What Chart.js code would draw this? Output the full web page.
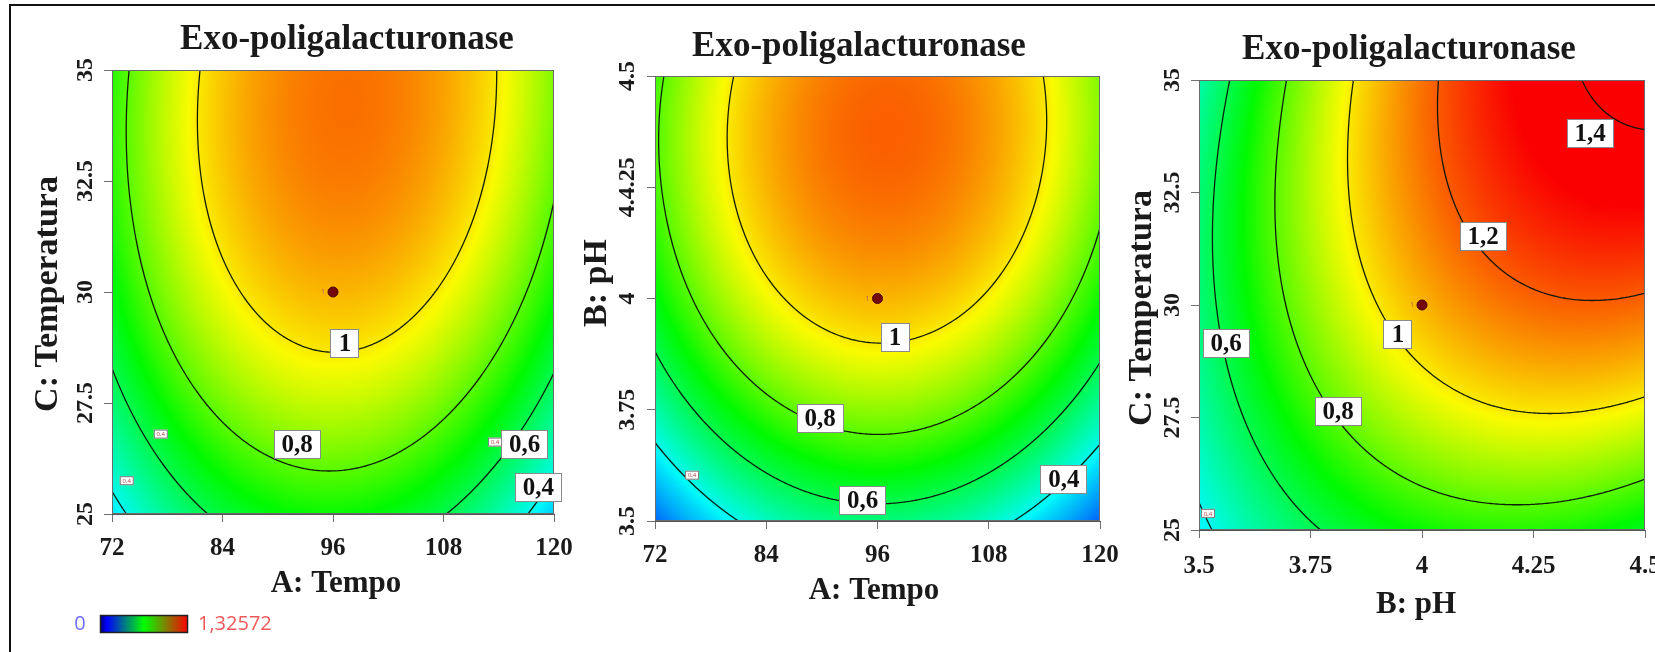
<!DOCTYPE html>
<html>
<head>
<meta charset="utf-8">
<script src="https://cdn.jsdelivr.net/npm/chart.js@4.4.1/dist/chart.umd.min.js"></script>
<style>
  html, body { margin: 0; padding: 0; background: #fff; }
  #wrap { position: relative; width: 1655px; height: 652px; overflow: hidden; background: #fff; }
  #wrap canvas { position: absolute; top: 0; }
  #frame { position: absolute; left: 9px; top: 4px; width: 1700px; height: 700px;
           border-left: 2px solid #111; border-top: 2px solid #111; }
</style>
</head>
<body>
<div id="wrap">
  <div id="frame"></div>
  <canvas id="c1" width="600" height="652" style="left:0px"></canvas>
  <canvas id="c2" width="600" height="652" style="left:540px"></canvas>
  <canvas id="c3" width="600" height="652" style="left:1090px"></canvas>
</div>
<script>
// ---- factor levels shown on the axes ----
const tempoTicks = [72, 84, 96, 108, 120];
const tempoTickLabels = ['72', '84', '96', '108', '120'];
const phTicks = [3.5, 3.75, 4, 4.25, 4.5];
const phTickLabels = ['3.5', '3.75', '4', '4.25', '4.5'];
const phTickLabelsVertical = ['3.5', '3.75', '4', '4.4.25', '4.5'];
const tempTicks = [25, 27.5, 30, 32.5, 35];
const tempTickLabels = ['25', '27.5', '30', '32.5', '35'];

// ---- predicted activity at the tick grid (rows: bottom to top of the y axis) ----
const respTempoTemp = [
  [0.354, 0.625, 0.708, 0.605, 0.314],
  [0.552, 0.831, 0.924, 0.829, 0.548],
  [0.682, 0.971, 1.072, 0.987, 0.714],
  [0.745, 1.042, 1.153, 1.076, 0.813],
  [0.740, 1.047, 1.166, 1.099, 0.844]
];
const respTempoPh = [
  [0.160, 0.453, 0.544, 0.448, 0.150],
  [0.481, 0.764, 0.861, 0.770, 0.492],
  [0.682, 0.971, 1.072, 0.987, 0.714],
  [0.778, 1.072, 1.179, 1.098, 0.831],
  [0.769, 1.068, 1.180, 1.105, 0.843]
];
const respPhTemp = [
  [0.370, 0.585, 0.708, 0.736, 0.658],
  [0.480, 0.752, 0.924, 0.991, 0.953],
  [0.544, 0.861, 1.072, 1.179, 1.180],
  [0.546, 0.902, 1.153, 1.299, 1.340],
  [0.480, 0.876, 1.166, 1.352, 1.432]
];

const contourLevels = [0.4, 0.6, 0.8, 1.0, 1.2, 1.4];
const colourRange = [0, 1.32572];
// hue (degrees) along the colour scale, by activity
const hueStops = [[0, 240], [0.35, 186], [0.7, 120], [1.0, 56], [1.32572, 0]];

// ---- contour labels [x, y, text] ----
const labelsTempoTemp = [[97.3, 28.85, '1'], [92.1, 26.57, '0,8'], [116.8, 26.57, '0,6'], [118.3, 25.6, '0,4']];
const smallTagsTempoTemp = [[77.3, 26.8], [73.6, 25.75], [113.6, 26.62]];
const labelsTempoPh = [[97.9, 3.913, '1'], [89.8, 3.73, '0,8'], [94.4, 3.547, '0,6'], [116.1, 3.594, '0,4']];
const smallTagsTempoPh = [[76.0, 3.603]];
const labelsPhTemp = [[4.377, 33.82, '1,4'], [4.137, 31.52, '1,2'], [3.946, 29.34, '1'], [3.812, 27.63, '0,8'], [3.561, 29.15, '0,6']];
const smallTagsPhTemp = [[3.52, 25.37]];

// ---- centre point of the design ----
const centreTempoTemp = [{ x: 96, y: 30 }];
const centreTempoPh = [{ x: 96, y: 4 }];
const centrePhTemp = [{ x: 4, y: 30 }];

const SERIF = '"Liberation Serif", "Times New Roman", serif';
const SANS = '"Open Sans", "Noto Sans", sans-serif';
const panelTitle = 'Exo-poligalacturonase';

function lagrange(nodes, x) {
  return nodes.map((xi, i) => nodes.reduce((p, xj, j) => (j === i ? p : p * (x - xj) / (xi - xj)), 1));
}

function hueFor(v) {
  if (v <= hueStops[0][0]) return hueStops[0][1];
  for (let k = 1; k < hueStops.length; k++) {
    const [v1, h1] = hueStops[k], [v0, h0] = hueStops[k - 1];
    if (v <= v1) return h0 + (h1 - h0) * (v - v0) / (v1 - v0);
  }
  return 0;
}

function hueRGB(v) {
  const hp = hueFor(v) / 60;
  const x = 1 - Math.abs((hp % 2) - 1);
  let c;
  if (hp < 1) c = [1, x, 0];
  else if (hp < 2) c = [x, 1, 0];
  else if (hp < 3) c = [0, 1, x];
  else if (hp < 4) c = [0, x, 1];
  else c = [x, 0, 1];
  return c.map(k => Math.round(k * 250));
}

function makePanel(cfg) {
  const canvas = document.getElementById(cfg.id);
  const off = cfg.offset;
  const field = (x, y) => {
    const wx = lagrange(cfg.xTicks, x), wy = lagrange(cfg.yTicks, y);
    let s = 0;
    for (let j = 0; j < wy.length; j++) for (let i = 0; i < wx.length; i++) s += wy[j] * wx[i] * cfg.grid[j][i];
    return s;
  };

  const panelPlugin = {
    id: 'panel-' + cfg.id,
    beforeDraw(chart) {
      const ctx = chart.ctx;
      const xs = chart.scales.x, ys = chart.scales.y;
      const L = Math.round(chart.chartArea.left), T = Math.round(chart.chartArea.top);
      const R = Math.round(chart.chartArea.right), B = Math.round(chart.chartArea.bottom);
      const w = R - L, h = B - T;
      // filled surface
      const img = ctx.createImageData(w, h);
      const wxs = [];
      for (let px = 0; px < w; px++) wxs.push(lagrange(cfg.xTicks, xs.getValueForPixel(L + px + 0.5)));
      for (let py = 0; py < h; py++) {
        const wy = lagrange(cfg.yTicks, ys.getValueForPixel(T + py + 0.5));
        const row = [0, 0, 0, 0, 0];
        for (let i = 0; i < 5; i++) for (let j = 0; j < 5; j++) row[i] += wy[j] * cfg.grid[j][i];
        for (let px = 0; px < w; px++) {
          const wx = wxs[px];
          let v = 0;
          for (let i = 0; i < 5; i++) v += wx[i] * row[i];
          const c = hueRGB(v);
          const k = (py * w + px) * 4;
          img.data[k] = c[0]; img.data[k + 1] = c[1]; img.data[k + 2] = c[2]; img.data[k + 3] = 255;
        }
      }
      ctx.putImageData(img, L, T);

      // contour lines (marching squares)
      const step = 2;
      const nx = Math.ceil(w / step), ny = Math.ceil(h / step);
      const gx = i => Math.min(L + i * step, R), gy = j => Math.min(T + j * step, B);
      const vals = [];
      for (let j = 0; j <= ny; j++) {
        const r = [];
        for (let i = 0; i <= nx; i++) r.push(field(xs.getValueForPixel(gx(i)), ys.getValueForPixel(gy(j))));
        vals.push(r);
      }
      ctx.save();
      ctx.beginPath(); ctx.rect(L, T, w, h); ctx.clip();
      ctx.strokeStyle = 'rgba(10,20,10,0.95)';
      ctx.lineWidth = 1.3;
      ctx.lineCap = 'round';
      for (const lev of contourLevels) {
        ctx.beginPath();
        for (let j = 0; j < ny; j++) {
          for (let i = 0; i < nx; i++) {
            const x0 = gx(i), x1 = gx(i + 1), y0 = gy(j), y1 = gy(j + 1);
            const a = vals[j][i], b = vals[j][i + 1], c = vals[j + 1][i + 1], d = vals[j + 1][i];
            const pts = [];
            const cross = (p, q, P, Q) => {
              if ((p < lev) !== (q < lev)) {
                const t = (lev - p) / (q - p);
                pts.push([P[0] + (Q[0] - P[0]) * t, P[1] + (Q[1] - P[1]) * t]);
              }
            };
            cross(a, b, [x0, y0], [x1, y0]);
            cross(b, c, [x1, y0], [x1, y1]);
            cross(c, d, [x1, y1], [x0, y1]);
            cross(d, a, [x0, y1], [x0, y0]);
            for (let k = 0; k + 1 < pts.length; k += 2) {
              ctx.moveTo(pts[k][0], pts[k][1]);
              ctx.lineTo(pts[k + 1][0], pts[k + 1][1]);
            }
          }
        }
        ctx.stroke();
      }
      ctx.restore();
    },
    beforeDatasetsDraw(chart) {
      const ctx = chart.ctx;
      const xs = chart.scales.x, ys = chart.scales.y;
      const { left, top, right, bottom } = chart.chartArea;
      ctx.save();
      ctx.strokeStyle = '#6b6b6b';
      ctx.lineWidth = 1;
      ctx.strokeRect(Math.round(left) + 0.5, Math.round(top) + 0.5, Math.round(right - left) - 1, Math.round(bottom - top) - 1);
      // small tags
      for (const [x, y] of cfg.tags) {
        const px = xs.getPixelForValue(x), py = ys.getPixelForValue(y);
        ctx.fillStyle = '#fff';
        ctx.fillRect(px - 7, py - 4.5, 14, 9);
        ctx.strokeStyle = '#777';
        ctx.strokeRect(px - 7 + 0.5, py - 4.5 + 0.5, 13, 8);
        ctx.fillStyle = '#b04040';
        ctx.font = '6px ' + SANS;
        ctx.textAlign = 'center'; ctx.textBaseline = 'middle';
        ctx.fillText('0,4', px, py + 0.5);
      }
      // contour value labels
      ctx.font = 'bold 25px ' + SERIF;
      ctx.textAlign = 'center'; ctx.textBaseline = 'middle';
      for (const [x, y, t] of cfg.labels) {
        const px = xs.getPixelForValue(x), py = ys.getPixelForValue(y);
        const tw = ctx.measureText(t).width;
        const bw = Math.round(tw + 16), bh = 29;
        const bx = Math.round(px - bw / 2), by = Math.round(py - bh / 2);
        ctx.fillStyle = '#fff';
        ctx.fillRect(bx, by, bw, bh);
        ctx.strokeStyle = '#8a8a8a';
        ctx.strokeRect(bx + 0.5, by + 0.5, bw - 1, bh - 1);
        ctx.fillStyle = '#111';
        ctx.fillText(t, px, py + 1);
      }
      ctx.restore();
    },
    afterDraw(chart) {
      const ctx = chart.ctx;
      const ys = chart.scales.y;
      ctx.save();
      ctx.fillStyle = '#1a1a1a';
      // panel title
      ctx.font = 'bold 35px ' + SERIF;
      ctx.textAlign = 'center'; ctx.textBaseline = 'middle';
      ctx.fillText(panelTitle, cfg.titlePos[0] - off, cfg.titlePos[1]);
      // x axis title
      ctx.font = 'bold 31px ' + SERIF;
      ctx.fillText(cfg.xTitle, cfg.xTitlePos[0] - off, cfg.xTitlePos[1]);
      // y axis title (rotated)
      ctx.font = 'bold 34px ' + SERIF;
      ctx.save();
      ctx.translate(cfg.yTitlePos[0] - off, cfg.yTitlePos[1]);
      ctx.rotate(-Math.PI / 2);
      ctx.fillText(cfg.yTitle, 0, 0);
      ctx.restore();
      // y tick labels (rotated, read bottom to top)
      ctx.font = 'bold 24px ' + SERIF;
      cfg.yTicks.forEach((v, i) => {
        ctx.save();
        ctx.translate(cfg.yLabelX - off, ys.getPixelForValue(v));
        ctx.rotate(-Math.PI / 2);
        ctx.fillText(cfg.yLabels[i], 0, 0);
        ctx.restore();
      });
      // replicate count next to the centre point
      const xs = chart.scales.x;
      const cp = cfg.centre[0];
      ctx.font = '7px ' + SANS;
      ctx.fillStyle = '#b06060';
      ctx.fillText('1', xs.getPixelForValue(cp.x) - 10, ys.getPixelForValue(cp.y));
      if (cfg.colourBar) {
        const [bx, by, bw, bh] = [100 - off, 615, 88, 18];
        const g = ctx.createLinearGradient(bx, 0, bx + bw, 0);
        g.addColorStop(0, '#00007a');
        g.addColorStop(0.08, '#0000ff');
        g.addColorStop(0.5, '#00ff00');
        g.addColorStop(1, '#ff0000');
        ctx.fillStyle = g;
        ctx.fillRect(bx, by, bw, bh);
        ctx.strokeStyle = '#222';
        ctx.lineWidth = 1.5;
        ctx.strokeRect(bx + 0.5, by + 0.5, bw - 1, bh - 1);
        ctx.font = '20px ' + SANS;
        ctx.textBaseline = 'middle';
        ctx.textAlign = 'center';
        ctx.fillStyle = '#6f6fff';
        ctx.fillText(String(colourRange[0]), 80 - off, by + bh / 2);
        ctx.textAlign = 'left';
        ctx.fillStyle = '#f05a5a';
        ctx.fillText(colourRange[1].toString().replace('.', ','), 198 - off, by + bh / 2);
      }
      ctx.restore();
    }
  };

  const a = cfg.area;
  const yAxisW = 50, xAxisH = 70;
  return new Chart(canvas, {
    type: 'scatter',
    data: {
      datasets: [{
        data: cfg.centre,
        pointRadius: 5,
        pointBackgroundColor: '#740808',
        pointBorderColor: '#4a0404',
        pointBorderWidth: 1
      }]
    },
    options: {
      responsive: false,
      animation: false,
      devicePixelRatio: 1,
      layout: {
        padding: {
          left: a[0] - off - yAxisW,
          right: canvas.width - (a[2] - off),
          top: a[1],
          bottom: canvas.height - a[3] - xAxisH
        }
      },
      plugins: { legend: { display: false }, title: { display: false }, tooltip: { enabled: false } },
      scales: {
        x: {
          type: 'linear',
          min: cfg.xTicks[0], max: cfg.xTicks[cfg.xTicks.length - 1],
          afterBuildTicks: s => { s.ticks = cfg.xTicks.map(v => ({ value: v })); },
          afterFit: s => { s.height = xAxisH; },
          ticks: {
            autoSkip: false, maxRotation: 0, padding: cfg.xTickPad,
            color: '#1a1a1a',
            font: { family: SERIF, size: 25, weight: 'bold', lineHeight: 1.2 },
            callback: v => cfg.xLabels[cfg.xTicks.indexOf(v)]
          },
          grid: { display: true, drawOnChartArea: false, drawTicks: true, tickLength: 8, color: '#707070' },
          border: { display: true, color: '#555', width: 1 }
        },
        y: {
          type: 'linear',
          min: cfg.yTicks[0], max: cfg.yTicks[cfg.yTicks.length - 1],
          afterBuildTicks: s => { s.ticks = cfg.yTicks.map(v => ({ value: v })); },
          afterFit: s => { s.width = yAxisW; },
          ticks: { display: false },
          grid: { display: true, drawOnChartArea: false, drawTicks: true, tickLength: 8, color: '#707070' },
          border: { display: true, color: '#555', width: 1 }
        }
      }
    },
    plugins: [panelPlugin]
  });
}

makePanel({
  id: 'c1', offset: 0, area: [112, 70, 554, 514],
  xTicks: tempoTicks, xLabels: tempoTickLabels, yTicks: tempTicks, yLabels: tempTickLabels,
  grid: respTempoTemp, labels: labelsTempoTemp, tags: smallTagsTempoTemp, centre: centreTempoTemp,
  xTitle: 'A: Tempo', yTitle: 'C: Temperatura',
  titlePos: [347, 40], xTitlePos: [336, 584], yTitlePos: [48, 294], yLabelX: 86, xTickPad: 12,
  colourBar: true
});
makePanel({
  id: 'c2', offset: 540, area: [655, 76, 1100, 521],
  xTicks: tempoTicks, xLabels: tempoTickLabels, yTicks: phTicks, yLabels: phTickLabelsVertical,
  grid: respTempoPh, labels: labelsTempoPh, tags: smallTagsTempoPh, centre: centreTempoPh,
  xTitle: 'A: Tempo', yTitle: 'B: pH',
  titlePos: [859, 47], xTitlePos: [874, 591], yTitlePos: [597, 283], yLabelX: 628, xTickPad: 12,
  colourBar: false
});
makePanel({
  id: 'c3', offset: 1090, area: [1199, 80, 1645, 530],
  xTicks: phTicks, xLabels: phTickLabels, yTicks: tempTicks, yLabels: tempTickLabels,
  grid: respPhTemp, labels: labelsPhTemp, tags: smallTagsPhTemp, centre: centrePhTemp,
  xTitle: 'B: pH', yTitle: 'C: Temperatura',
  titlePos: [1409, 50], xTitlePos: [1416, 605], yTitlePos: [1142, 308], yLabelX: 1173, xTickPad: 14,
  colourBar: false
});
</script>
</body>
</html>
